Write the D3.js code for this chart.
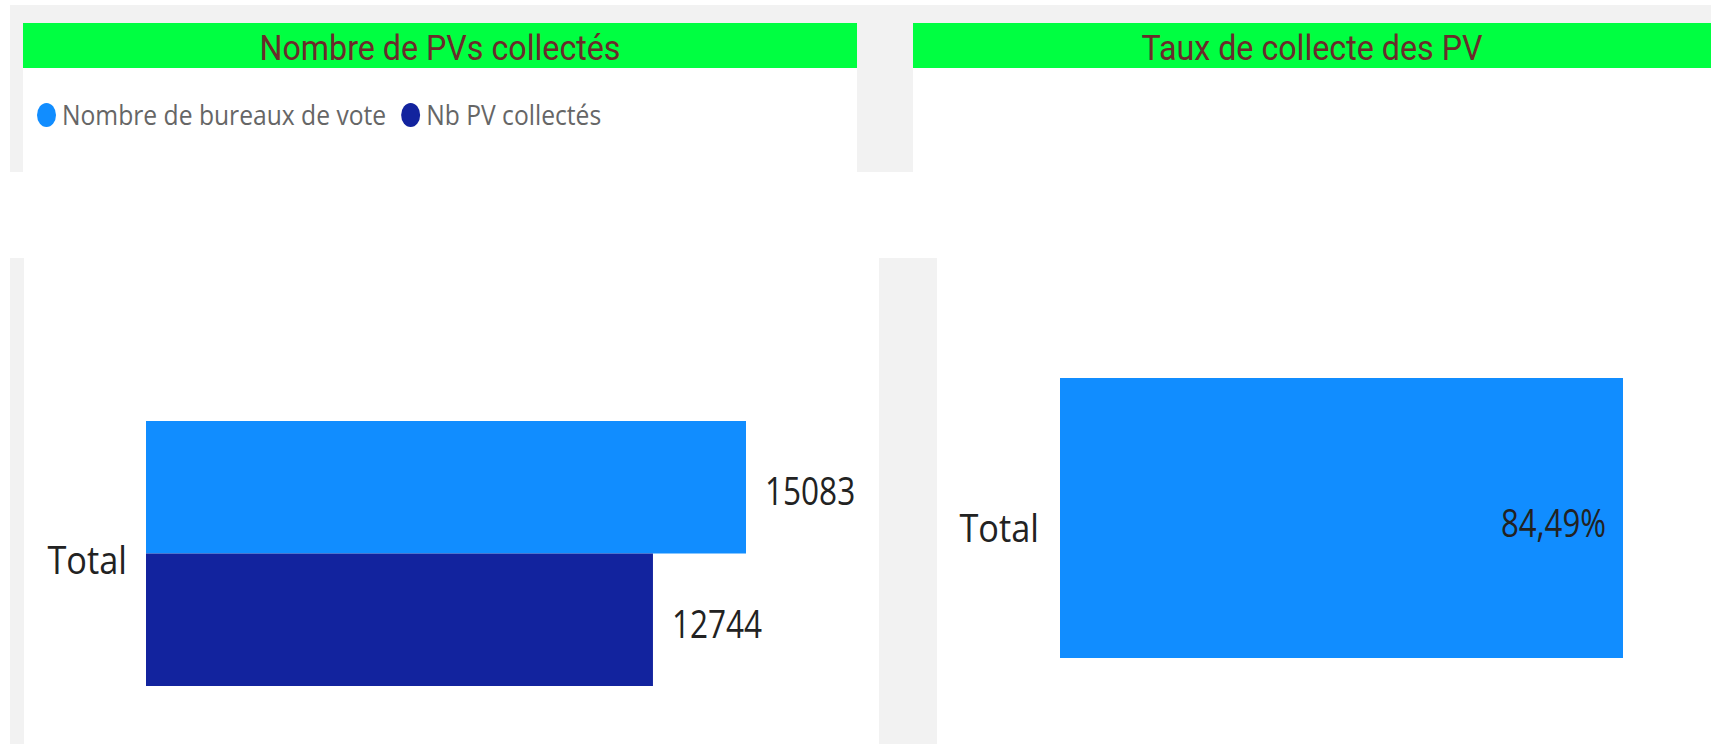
<!DOCTYPE html>
<html lang="fr">
<head>
<meta charset="utf-8">
<title>PV collectés</title>
<script src="https://cdn.jsdelivr.net/npm/d3@7"></script>
<style>
  body { margin: 0; background: #fff; }
  svg { display: block; }
</style>
</head>
<body>
<svg width="1711" height="744"></svg>
<script>
// data
const categories = ["Total"];
const seriesNames = ["Nombre de bureaux de vote", "Nb PV collectés"];
const bureauxValues = [15083];
const pvValues = [12744];
const tauxValues = [0.8449];
const panelTitles = ["Nombre de PVs collectés", "Taux de collecte des PV"];

const seriesColors = ["#118DFF", "#12239E"];
const grey = "#f2f2f2";
const green = "#00ff41";
const titleColor = "#6b2b2b";

const fr = d3.formatLocale({decimal: ",", thousands: " ", grouping: [3], currency: ["", " €"]});
const fmtPct = fr.format(".2%");
const fmtInt = d3.format("d");

const svg = d3.select("svg");

// the screenshot is squeezed horizontally, so text is too
function squeeze(sel, k) {
  sel.each(function() {
    const w = this.getComputedTextLength();
    d3.select(this).attr("textLength", w * k).attr("lengthAdjust", "spacingAndGlyphs");
  });
}

// ---- background / panels ----
svg.append("rect").attr("x", 10).attr("y", 5).attr("width", 1701).attr("height", 167).attr("fill", grey);
svg.append("rect").attr("x", 23).attr("y", 23).attr("width", 834).attr("height", 149).attr("fill", "#fff");
svg.append("rect").attr("x", 913).attr("y", 23).attr("width", 798).attr("height", 149).attr("fill", "#fff");
svg.append("rect").attr("x", 10).attr("y", 258).attr("width", 14).attr("height", 486).attr("fill", grey);
svg.append("rect").attr("x", 879).attr("y", 258).attr("width", 58).attr("height", 486).attr("fill", grey);

const headers = [{x: 23, w: 834}, {x: 913, w: 798}];
svg.selectAll("rect.header").data(headers).enter().append("rect")
  .attr("class", "header")
  .attr("x", d => d.x).attr("y", 23)
  .attr("width", d => d.w).attr("height", 45)
  .attr("fill", green);

svg.selectAll("text.title").data(headers).enter().append("text")
  .attr("class", "title")
  .attr("x", d => d.x + d.w / 2).attr("y", 60)
  .attr("text-anchor", "middle")
  .style("font-family", "Roboto, 'DejaVu Sans', sans-serif")
  .style("font-size", "35px")
  .style("font-weight", 400)
  .attr("fill", titleColor)
  .text((d, i) => panelTitles[i])
  .call(squeeze, 0.92);

// ---- legend ----
const legend = svg.append("g").attr("transform", "translate(37,115)");
let lx = 0;
seriesNames.forEach((name, i) => {
  legend.append("ellipse")
    .attr("cx", lx + 9.5).attr("cy", 0).attr("rx", 9.5).attr("ry", 12)
    .attr("fill", seriesColors[i]);
  const t = legend.append("text")
    .attr("x", lx + 25).attr("y", 10)
    .style("font-family", "'Open Sans', sans-serif")
    .style("font-size", "28px")
    .attr("fill", "#666")
    .text(name)
    .call(squeeze, 0.88);
  lx += 25 + (+t.attr("textLength")) + 15;
});

// ---- left chart: grouped horizontal bars ----
const labelFont = "'Open Sans', 'Segoe UI', sans-serif";
const series = [bureauxValues, pvValues];
const yL = d3.scaleBand().domain(categories).range([421, 686]).padding(0);
const ySub = d3.scaleBand().domain(d3.range(series.length)).range([0, yL.bandwidth()]);
const xL = d3.scaleLinear().domain([0, d3.max(series.flat())]).range([146, 746]);

const rows = [];
categories.forEach((c, ci) => series.forEach((s, si) => rows.push({cat: c, si: si, v: s[ci]})));

const gL = svg.append("g");
gL.selectAll("rect.bar").data(rows).enter().append("rect")
  .attr("class", "bar")
  .attr("x", xL(0))
  .attr("y", d => yL(d.cat) + ySub(d.si))
  .attr("width", d => xL(d.v) - xL(0))
  .attr("height", ySub.bandwidth())
  .attr("fill", d => seriesColors[d.si]);

gL.selectAll("text.val").data(rows).enter().append("text")
  .attr("class", "val")
  .attr("x", d => xL(d.v) + 19)
  .attr("y", d => yL(d.cat) + ySub(d.si) + ySub.bandwidth() / 2 + 18)
  .style("font-family", labelFont).style("font-size", "38px")
  .attr("fill", "#222")
  .text(d => fmtInt(d.v))
  .call(squeeze, 0.83);

gL.selectAll("text.cat").data(categories).enter().append("text")
  .attr("class", "cat")
  .attr("x", xL(0) - 19)
  .attr("y", d => yL(d) + yL.bandwidth() / 2 + 20)
  .attr("text-anchor", "end")
  .style("font-family", labelFont).style("font-size", "39px")
  .attr("fill", "#222")
  .text(d => d)
  .call(squeeze, 0.88);

// ---- right chart: rate ----
const yR = d3.scaleBand().domain(categories).range([378, 658]).padding(0);
const xR = d3.scaleLinear().domain([0, d3.max(tauxValues)]).range([1060, 1623]);

const gR = svg.append("g");
gR.selectAll("rect.bar").data(categories).enter().append("rect")
  .attr("class", "bar")
  .attr("x", xR(0))
  .attr("y", d => yR(d))
  .attr("width", (d, i) => xR(tauxValues[i]) - xR(0))
  .attr("height", yR.bandwidth())
  .attr("fill", seriesColors[0]);

gR.selectAll("text.val").data(categories).enter().append("text")
  .attr("class", "val")
  .attr("x", (d, i) => xR(tauxValues[i]) - 17)
  .attr("y", d => yR(d) + yR.bandwidth() / 2 + 19)
  .attr("text-anchor", "end")
  .style("font-family", labelFont).style("font-size", "38px")
  .attr("fill", "#222")
  .text((d, i) => fmtPct(tauxValues[i]))
  .call(squeeze, 0.82);

gR.selectAll("text.cat").data(categories).enter().append("text")
  .attr("class", "cat")
  .attr("x", xR(0) - 21)
  .attr("y", d => yR(d) + yR.bandwidth() / 2 + 24)
  .attr("text-anchor", "end")
  .style("font-family", labelFont).style("font-size", "39px")
  .attr("fill", "#222")
  .text(d => d)
  .call(squeeze, 0.88);
</script>
</body>
</html>
